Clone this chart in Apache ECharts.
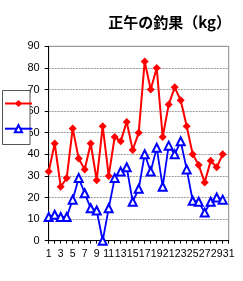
<!DOCTYPE html>
<html>
<head>
<meta charset="utf-8">
<script src="https://cdn.jsdelivr.net/npm/echarts@6/dist/echarts.min.js"></script>
<style>html,body{margin:0;padding:0;background:#fff;}#c{width:243px;height:281px;}</style>
</head>
<body>
<div id="c"></div>
<script>
var titleText = '正午の釣果（kg）';
var days = ['1','2','3','4','5','6','7','8','9','10','11','12','13','14','15','16','17','18','19','20','21','22','23','24','25','26','27','28','29','30','31'];
var redValues = [32,45,25,29,52,38,33,45,28,53,30,48,46,55,42,50,83,70,80,48,63,71,65,53,40,35,27,37,34,40,null];
var blueValues = [11,12,11,11,19,29,22,15,14,0,15,29,32,34,18,24,40,32,43,25,44,40,46,33,18.5,18,13,18,20,19,null];
var yTicks = {min:0, max:90, interval:10};

var chart = echarts.init(document.getElementById('c'), null, {renderer:'canvas'});
chart.setOption({
  animation:false,
  backgroundColor:'#fff',
  title:{text:titleText, right:12, top:15, padding:0,
    textStyle:{fontSize:15, fontWeight:'bold', color:'#000', fontFamily:'Noto Sans CJK JP'}},
  graphic:[{type:'rect', z:3, shape:{x:2.5, y:90.5, width:27.5, height:54},
    style:{fill:'#fff', stroke:'#555', lineWidth:1}}],
  legend:{z:4, orient:'vertical', left:4, top:99, padding:0, itemWidth:27, itemHeight:9, itemGap:17,
    formatter:function(){return '';}, selectedMode:false,
    data:['A','B']},
  grid:{left:48.7, right:14.3, top:46.3, bottom:40.3, show:true, borderColor:'#888', borderWidth:1, backgroundColor:'#fff'},
  xAxis:{type:'category', data:days, boundaryGap:false,
    axisLine:{lineStyle:{color:'#000', width:1}},
    axisTick:{show:true, interval:0, length:3, lineStyle:{color:'#000'}},
    axisLabel:{interval:1, margin:8, color:'#000', fontSize:10.5, fontFamily:'Liberation Sans',
      showMinLabel:true, showMaxLabel:true, hideOverlap:false},
    splitLine:{show:false}},
  yAxis:{type:'value', min:yTicks.min, max:yTicks.max, interval:yTicks.interval,
    axisLine:{show:true, lineStyle:{color:'#000', width:1}},
    axisTick:{show:true, length:4, lineStyle:{color:'#000'}},
    axisLabel:{margin:9, color:'#000', fontSize:11, fontFamily:'Liberation Sans'},
    splitLine:{show:true, lineStyle:{color:'#999', type:[2,1], width:1}}},
  series:[
    {name:'A', type:'line', data:redValues, color:'#ff0000', symbol:'diamond', symbolSize:8, showAllSymbol:true,
     lineStyle:{width:2, color:'#ff0000'}, itemStyle:{color:'#ff0000'}, z:3},
    {name:'B', type:'line', data:blueValues, color:'#0000ff', symbol:'emptyTriangle', symbolSize:8, showAllSymbol:true,
     lineStyle:{width:1.8, color:'#0000ff'}, itemStyle:{color:'#0000ff', borderWidth:1}, z:2}
  ]
});
</script>
</body>
</html>
